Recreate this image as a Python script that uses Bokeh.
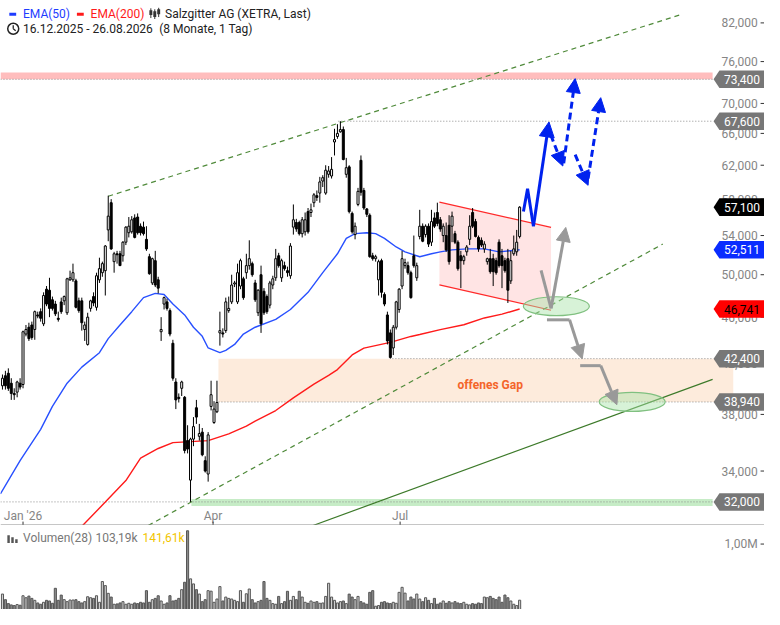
import math
from bokeh.plotting import figure
from bokeh.models import Range1d, ColumnDataSource, Arrow, NormalHead, LinearScale
from bokeh.layouts import column
from bokeh.embed import file_html
from bokeh.resources import INLINE
from bokeh.core.properties import value

FONT = value("Roboto")

# ---------------- data (EUR, daily bars, index 0 = 16.12.2025) ----------------
opens = [40.2, 41.0, 41.2, 40.4, 39.6, 39.7, 40.4, 40.3, 44.5, 45.1,
         45.3, 44.9, 46.2, 46.5, 45.4, 48.6, 48.5, 47.6, 47.2, 45.9,
         47.4, 47.5, 46.4, 49.5, 49.5, 49.4, 47.5, 47.5, 44.9, 43.6,
         46.8, 47.9, 46.9, 49.5, 50.2, 50.4, 54.6, 57.6, 51.3, 52.1,
         52.1, 51.9, 53.3, 54.3, 54.4, 55.9, 56.0, 55.0, 54.9, 53.6,
         51.8, 49.2, 51.4, 49.5, 44.7, 47.2, 47.4, 46.6, 43.7, 40.5,
         39.3, 40.0, 39.3, 36.1, 33.4, 36.2, 38.5, 36.4, 36.7, 34.7,
         33.8, 38.6, 37.4, 38.2, 44.6, 44.6, 44.8, 46.6, 47.4, 49.1,
         47.4, 48.9, 49.6, 50.2, 50.9, 51.1, 49.2, 46.4, 50.0, 48.4,
         47.9, 47.1, 49.0, 49.7, 51.9, 49.7, 50.9, 50.4, 49.9, 54.9,
         55.4, 55.4, 54.2, 54.4, 56.6, 56.5, 57.6, 58.4, 58.7, 60.1,
         58.7, 60.9, 60.7, 64.9, 65.6, 66.2, 66.5, 60.9, 61.8, 56.4,
         54.1, 57.4, 62.6, 59.0, 56.9, 56.2, 51.9, 51.6, 49.5, 51.4,
         48.1, 46.2, 44.6, 43.3, 45.1, 46.7, 48.9, 50.9, 50.9, 50.2,
         51.9, 49.7, 53.9, 55.0, 54.1, 55.0, 53.3, 55.9, 56.5, 55.7,
         54.0, 54.0, 55.1, 55.0, 54.2, 53.3, 51.9, 51.4, 52.3, 53.6,
         56.5, 55.5, 53.8, 53.5, 52.6, 51.3, 51.6, 51.6, 51.4, 53.3,
         51.9, 51.4, 51.6, 49.4, 52.1, 52.3, 53.9]
highs = [41.1, 41.4, 41.6, 40.8, 40.0, 40.6, 40.8, 44.8, 45.3, 45.5,
         45.6, 46.6, 46.5, 46.8, 48.3, 48.9, 49.7, 47.9, 47.5, 46.5,
         47.8, 48.0, 49.7, 50.4, 51.1, 49.6, 47.8, 47.8, 45.6, 46.4,
         47.6, 48.3, 50.2, 51.7, 51.3, 53.0, 58.4, 58.0, 52.3, 52.4,
         52.4, 53.4, 55.0, 56.0, 56.1, 56.3, 56.4, 55.3, 55.5, 55.0,
         52.1, 51.7, 52.4, 49.8, 46.0, 47.9, 47.7, 46.8, 44.0, 40.8,
         39.6, 40.6, 39.4, 37.2, 36.3, 37.8, 39.1, 37.3, 37.0, 35.0,
         36.7, 40.6, 39.0, 40.6, 46.5, 45.0, 47.8, 47.9, 50.0, 49.4,
         51.1, 51.6, 49.8, 52.1, 53.5, 51.3, 49.5, 48.6, 50.9, 48.7,
         48.1, 49.4, 49.9, 52.6, 52.2, 51.6, 51.3, 50.8, 53.2, 57.4,
         55.8, 55.6, 56.0, 56.5, 57.0, 57.5, 58.7, 59.0, 60.6, 60.8,
         62.0, 61.9, 63.0, 66.6, 67.2, 67.6, 66.9, 62.9, 62.0, 56.6,
         55.4, 59.3, 63.2, 59.3, 57.0, 56.4, 52.2, 52.0, 51.5, 51.6,
         48.3, 46.5, 44.9, 45.3, 47.5, 48.7, 52.4, 51.6, 51.3, 50.4,
         54.0, 51.2, 56.8, 55.3, 55.2, 55.3, 56.8, 56.5, 57.6, 56.0,
         55.3, 55.4, 56.2, 56.6, 54.5, 53.5, 52.4, 52.0, 53.0, 56.2,
         57.0, 55.8, 54.0, 53.8, 53.4, 51.7, 52.6, 52.1, 51.7, 53.6,
         52.6, 51.7, 52.6, 52.4, 54.0, 54.6, 57.2]
lows = [39.9, 39.9, 39.8, 39.1, 39.1, 39.3, 39.9, 40.0, 44.3, 43.9,
        44.0, 44.0, 45.9, 45.6, 45.2, 47.0, 46.0, 46.6, 46.1, 45.6,
        46.3, 47.1, 46.2, 49.4, 49.3, 46.8, 46.4, 44.8, 43.9, 43.5,
        46.5, 47.0, 46.6, 49.2, 49.8, 48.0, 53.4, 52.5, 50.2, 51.1,
        50.9, 51.3, 53.0, 53.8, 54.2, 53.7, 54.1, 54.0, 54.0, 52.4,
        50.0, 49.0, 48.8, 48.2, 43.9, 46.7, 46.6, 44.3, 40.6, 38.4,
        38.9, 39.4, 35.2, 35.2, 32.0, 35.7, 37.3, 36.1, 35.0, 33.9,
        33.3, 38.3, 37.3, 38.1, 43.5, 44.2, 44.6, 46.4, 47.2, 48.8,
        47.2, 48.6, 47.6, 49.6, 50.5, 49.8, 47.4, 46.1, 44.6, 46.2,
        46.3, 46.8, 48.6, 49.4, 50.7, 49.3, 50.4, 49.8, 49.6, 54.1,
        54.4, 54.0, 53.8, 54.0, 54.2, 56.0, 57.1, 57.8, 57.6, 59.4,
        58.5, 60.5, 60.4, 63.2, 65.3, 66.1, 62.6, 60.5, 56.4, 54.2,
        53.6, 57.2, 58.4, 56.8, 56.0, 51.7, 51.4, 51.3, 48.0, 47.8,
        47.0, 43.6, 42.4, 42.7, 44.9, 46.4, 48.6, 50.6, 50.0, 47.7,
        50.7, 49.4, 53.6, 53.3, 53.8, 52.8, 52.9, 54.8, 55.0, 54.4,
        53.3, 52.3, 51.0, 53.3, 53.1, 50.4, 48.7, 51.0, 51.9, 53.0,
        54.8, 53.8, 52.3, 52.8, 52.2, 51.0, 50.1, 48.9, 50.0, 50.7,
        48.7, 50.2, 47.3, 49.1, 51.9, 51.9, 53.7]
closes = [40.8, 40.2, 40.0, 39.6, 39.5, 40.5, 40.1, 44.7, 44.9, 44.1,
          44.2, 46.5, 46.1, 45.9, 48.0, 47.2, 46.8, 46.8, 46.3, 45.8,
          46.5, 47.9, 49.6, 49.7, 50.2, 46.9, 46.6, 45.5, 45.3, 46.0,
          47.5, 47.3, 49.9, 50.6, 51.1, 52.9, 56.1, 52.6, 52.1, 52.0,
          50.9, 53.3, 54.9, 55.0, 55.7, 53.8, 54.3, 54.3, 54.2, 52.6,
          50.1, 51.6, 49.0, 48.7, 44.9, 47.8, 46.8, 44.5, 40.8, 39.1,
          39.2, 40.5, 35.4, 35.5, 36.2, 37.1, 37.8, 36.6, 35.1, 34.0,
          36.5, 39.5, 38.4, 38.9, 44.8, 44.5, 47.4, 46.8, 49.0, 49.2,
          50.2, 51.4, 47.8, 50.9, 51.6, 50.0, 47.6, 48.5, 45.4, 46.4,
          46.5, 49.2, 49.6, 51.6, 50.9, 51.4, 50.6, 50.2, 52.9, 55.7,
          54.7, 54.2, 55.7, 55.7, 54.4, 56.8, 58.5, 58.2, 60.0, 60.5,
          61.4, 61.3, 61.5, 65.2, 66.0, 66.5, 62.7, 61.7, 56.6, 54.4,
          55.0, 58.9, 58.8, 57.0, 56.3, 51.8, 51.6, 51.8, 51.3, 48.3,
          47.2, 43.9, 42.5, 45.1, 47.4, 48.6, 51.6, 51.2, 50.2, 47.8,
          50.9, 50.9, 55.0, 53.4, 55.0, 53.1, 55.5, 55.0, 55.3, 54.7,
          55.0, 52.5, 51.3, 56.1, 53.3, 50.6, 51.4, 51.8, 52.8, 55.0,
          55.0, 53.9, 52.6, 53.0, 53.1, 51.6, 50.3, 50.3, 50.2, 50.9,
          50.9, 50.4, 48.5, 51.4, 52.6, 53.3, 57.1]
volumes_k = [236, 150, 90, 70, 60, 75, 65, 210, 180, 205,
             170, 140, 100, 80, 110, 140, 130, 95, 324, 140,
             220, 150, 120, 145, 145, 150, 120, 100, 120, 195,
             180, 170, 210, 110, 427, 365, 247, 190, 80, 85,
             100, 120, 80, 95, 80, 100, 90, 110, 100, 288,
             110, 150, 170, 210, 130, 80, 100, 211, 130, 140,
             170, 303, 416, 1203, 468, 391, 303, 236, 120, 150,
             288, 280, 110, 160, 350, 130, 190, 170, 160, 140,
             120, 288, 110, 240, 313, 150, 100, 120, 140, 427,
             170, 140, 90, 80, 200, 90, 120, 278, 140, 200,
             150, 278, 190, 110, 95, 130, 110, 120, 95, 100,
             200, 401, 190, 140, 100, 120, 130, 90, 235, 190,
             150, 200, 120, 100, 80, 262, 288, 50, 60, 110,
             120, 100, 90, 110, 95, 262, 339, 250, 130, 190,
             160, 236, 160, 120, 180, 140, 90, 170, 80, 100,
             130, 95, 120, 100, 120, 100, 90, 110, 80, 70,
             90, 80, 100, 90, 190, 180, 200, 170, 150, 190,
             110, 221, 180, 130, 80, 60, 142]

ema50_idx = [-0.7, 6, 13, 17, 22, 27, 33, 36, 40, 44, 48, 52, 55, 58, 62, 65, 68, 70, 74, 76,
             79, 82, 86, 93, 98, 104, 109, 114, 117, 120, 124, 127, 130, 134, 137, 142, 146,
             149, 153, 158, 164, 169, 176]
ema50_val = [32.5, 34.7, 36.9, 38.6, 40.4, 41.7, 42.9, 44.1, 45.3, 46.5, 47.8, 48.2, 48.1, 47.2,
             46.2, 45.1, 44.3, 43.3, 42.9, 43.1, 43.6, 44.5, 45.1, 45.8, 46.7, 48.3, 50.2, 52.1,
             53.7, 54.2, 54.3, 54.2, 53.7, 52.8, 52.3, 51.8, 52.1, 52.3, 52.5, 52.6, 52.6, 52.3,
             52.511]
ema200_idx = [24, 27, 35, 42, 47, 53, 58, 64, 70, 77, 83, 86, 93, 99, 106, 111, 114, 119, 123,
              132, 139, 142, 149, 157, 164, 170, 176]
ema200_val = [29.63, 30.50, 31.99, 33.37, 34.87, 35.54, 35.95, 36.02, 36.09, 36.58, 37.14,
              37.50, 38.29, 39.26, 40.33, 41.03, 41.50, 42.71, 43.28, 43.78, 44.29, 44.46,
              44.89, 45.32, 45.93, 46.27, 46.741]

price_ticks = [82, 76, 70, 66, 62, 58, 54, 50, 46, 42, 38, 34]
price_tick_labels = ["82,000", "76,000", "70,000", "66,000", "62,000", "58,000",
                     "54,000", "50,000", "46,000", "42,000", "38,000", "34,000"]
date_tick_idx = [7, 71.67, 135.33]
date_tick_labels = ["Jan '26", "Apr", "Jul"]

tag_prices = [73.4, 67.6, 57.1, 52.511, 46.741, 42.4, 38.94, 32.0]
tag_labels = ["73,400", "67,600", "57,100", "52,511", "46,741", "42,400", "38,940", "32,000"]
tag_fill = ["#777777", "#777777", "#000000", "#0a2cff", "#ff0000", "#777777", "#777777", "#777777"]
tag_text = ["#ffffff", "#ffffff", "#ffffff", "#ffffff", "#000000", "#ffffff", "#ffffff", "#ffffff"]

# levels / zones
resist_zone = [73.4, 74.4]
gap_zone = [38.94, 42.4]
support_zone = [31.75, 32.18]
level_prices = [73.4, 67.6, 42.4, 38.94, 32.0]
level_start_idx = [-0.67, 114.3, 132.7, 73.5, -0.67]

# trend lines (bar index, price)
upper_chan_x, upper_chan_y = [36, 230.3], [58.33, 83.26]
lower_chan_x, lower_chan_y = [49.6, 224.7], [30.55, 53.1]
trend_x, trend_y = [105.7, 241.67], [30.55, 40.71]
flag_x = [148.7, 186.7]
flag_top = [57.67, 54.87]
flag_bot = [49.01, 46.63]

# scenario arrows
blue_path_x, blue_path_y = [177.3, 178.7, 180.7, 186.0], [56.6, 59.2, 55.0, 67.5]
blue_dash = [((186.6, 65.8), (190.7, 61.9)), ((191.0, 62.25), (194.9, 73.5)),
             ((194.9, 63.3), (199.3, 59.6)), ((199.3, 60.4), (203.6, 70.8))]
gray_paths = [([183.3, 186.7, 191.7], [50.44, 46.8, 54.87]),
              ([185.3, 193.0, 197.3], [45.76, 45.76, 42.38]),
              ([196.6, 203.6, 209.1], [41.82, 41.82, 38.73])]
ellipse_x, ellipse_y = [188.5, 214.3], [47.0, 38.95]
gap_label_x, gap_label_y = [166], [40.3]

# ---------------- layout constants ----------------
W, HM, HV = 764, 525, 84
AXIS_IDX = 241.67        # right edge of price area (bar index units)
GAP_START, GAP_END = 73.5, 248.7
SUPPORT_START = 64.3
BLUE = "#1e3cff"
RED = "#ff1a1a"
GRAY_TXT = "#858585"

n = len(closes)
idx = list(range(n))
xr = Range1d(-2 / 3, 778 / 3)

p = figure(width=W, height=HM, x_range=xr, y_range=Range1d(30.55, 85.69), y_axis_type="log",
           x_axis_location=None, y_axis_location=None, output_backend="svg",
           toolbar_location=None, min_border=0, outline_line_color=None)
p.grid.visible = False
p.extra_x_ranges = {"px": Range1d(0, 780)}
p.extra_x_scales = {"px": LinearScale()}
p.extra_y_ranges = {"py": Range1d(539, 0)}
p.extra_y_scales = {"py": LinearScale()}

# zones
p.quad(left=[xr.start], right=[AXIS_IDX], bottom=[resist_zone[0]], top=[resist_zone[1]],
       fill_color="#ffbdbd", line_color=None)
p.quad(left=[GAP_START], right=[GAP_END], bottom=[gap_zone[0]], top=[gap_zone[1]],
       fill_color="#fdebdc", line_color=None)
p.quad(left=[SUPPORT_START], right=[AXIS_IDX], bottom=[support_zone[0]], top=[support_zone[1]],
       fill_color="#c6ecc6", line_color=None)
p.patch(x=[flag_x[0], flag_x[1], flag_x[1], flag_x[0]],
        y=[flag_top[0], flag_top[1], flag_bot[1], flag_bot[0]],
        fill_color="#ffe4e4", line_color=None)
p.line(flag_x, flag_top, line_color="#ff2a2a", line_width=1.2)
p.line(flag_x, flag_bot, line_color="#ff2a2a", line_width=1.2)

p.segment(x0=level_start_idx, x1=[AXIS_IDX] * len(level_prices), y0=level_prices, y1=level_prices,
          line_color="#8c8c8c", line_dash="1 2", line_width=1)

p.line(upper_chan_x, upper_chan_y, line_color="#4f8a3a", line_dash="5 4", line_width=1.2)
p.line(lower_chan_x, lower_chan_y, line_color="#4f8a3a", line_dash="5 4", line_width=1.2)
p.line(trend_x, trend_y, line_color="#3d7a2a", line_width=1.2)

p.line(ema200_idx, ema200_val, line_color=RED, line_width=1.4)
p.line(ema50_idx, ema50_val, line_color="#2850ff", line_width=1.4)

body_top = [max(o, c) for o, c in zip(opens, closes)]
body_bot = [min(o, c) for o, c in zip(opens, closes)]
body_fill = ["#ffffff" if c >= o else "#000000" for o, c in zip(opens, closes)]
src = ColumnDataSource(dict(x=idx, h=highs, l=lows, top=body_top, bot=body_bot, fill=body_fill))
p.segment(x0="x", x1="x", y0="l", y1="h", source=src, line_color="#000000", line_width=1)
p.vbar(x="x", top="top", bottom="bot", width=0.68, fill_color="fill", line_color="#000000",
       line_width=1, source=src)

# ellipses
p.ellipse(x=ellipse_x, y=ellipse_y, width=66, height=19, width_units="screen", height_units="screen",
          fill_color="#a6e3a6", fill_alpha=0.45, line_color="#80c080", line_width=1.2)

# arrows
GRAY = "#999999"
for xs, ys in gray_paths:
    p.line(xs[:-1], ys[:-1], line_color=GRAY, line_width=3)
    p.add_layout(Arrow(end=NormalHead(size=14, fill_color=GRAY, line_color=GRAY),
                       x_start=xs[-2], y_start=ys[-2], x_end=xs[-1], y_end=ys[-1],
                       line_color=GRAY, line_width=3))
p.line(blue_path_x[:-1], blue_path_y[:-1], line_color="#0022ee", line_width=3)
p.add_layout(Arrow(end=NormalHead(size=15, fill_color="#0022ee", line_color="#0022ee"),
                   x_start=blue_path_x[-2], y_start=blue_path_y[-2],
                   x_end=blue_path_x[-1], y_end=blue_path_y[-1],
                   line_color="#0022ee", line_width=3))
for (x0, y0), (x1, y1) in blue_dash:
    p.add_layout(Arrow(end=NormalHead(size=14, fill_color="#0022ee", line_color="#0022ee"),
                       x_start=x0, y_start=y0, x_end=x1, y_end=y1,
                       line_color="#0022ee", line_width=3, line_dash="7 4"))

p.text(x=gap_label_x, y=gap_label_y, text=["offenes Gap"], text_align="center",
       text_baseline="middle", text_font=FONT, text_font_size="12px", text_font_style="bold",
       text_color="#f4652a")

# right price scale
p.text(x=[773] * len(price_ticks), y=price_ticks, text=price_tick_labels, x_range_name="px",
       text_align="right", text_baseline="middle", text_font=FONT, text_font_size="12px",
       text_color=GRAY_TXT)
p.segment(x0=[776] * len(price_ticks), x1=[780] * len(price_ticks), y0=price_ticks, y1=price_ticks,
          x_range_name="px", line_color="#333333", line_width=1)
f = math.exp(9 / 522.7)
tag_xs = [[728, 734, 780, 780, 734] for _ in tag_prices]
tag_ys = [[v, v * f, v * f, v / f, v / f] for v in tag_prices]
p.patches(tag_xs, tag_ys, x_range_name="px", fill_color=tag_fill, line_color=None)
p.text(x=[757] * len(tag_prices), y=tag_prices, text=tag_labels, x_range_name="px",
       text_align="center", text_baseline="middle", text_font=FONT, text_font_size="12px",
       text_color=tag_text)

# date axis
p.text(x=date_tick_idx, y=[529] * 3, text=date_tick_labels, y_range_name="py",
       text_align="center", text_baseline="middle", text_font=FONT, text_font_size="12px",
       text_color=GRAY_TXT)
p.segment(x0=date_tick_idx, x1=date_tick_idx, y0=[535] * 3, y1=[539] * 3, y_range_name="py",
          line_color="#333333", line_width=1)
p.segment(x0=[0], x1=[780], y0=[538.5], y1=[538.5], x_range_name="px", y_range_name="py",
          line_color="#8c8c8c", line_width=1)

# header
hdr = dict(x_range_name="px", y_range_name="py")
p.segment(x0=[9, 78], x1=[16, 85], y0=[14, 14], y1=[14, 14], line_color=[BLUE, RED], line_width=3, **hdr)
p.text(x=[23], y=[14], text=["EMA(50)"], text_color=BLUE, text_baseline="middle",
       text_font=FONT, text_font_size="12px", **hdr)
p.text(x=[92], y=[14], text=["EMA(200)"], text_color=RED, text_baseline="middle",
       text_font=FONT, text_font_size="12px", **hdr)
p.segment(x0=[153.5, 157.5, 161.5], x1=[153.5, 157.5, 161.5], y0=[8, 9, 7.5], y1=[18, 19, 17],
          line_color="#333333", line_width=1, **hdr)
p.quad(left=[152, 156, 160], right=[155, 159, 163], top=[10, 11, 9], bottom=[15, 17, 14],
       fill_color="#333333", line_color=None, **hdr)
p.text(x=[168], y=[14], text=["Salzgitter AG (XETRA, Last)"], text_color="#222222",
       text_baseline="middle", text_font=FONT, text_font_size="12px", **hdr)
p.scatter(x=[13], y=[29], marker="circle", size=11, fill_color=None, line_color="#222222",
          line_width=1.5, **hdr)
p.segment(x0=[13, 13], x1=[13, 15.5], y0=[29, 29], y1=[25.5, 31], line_color="#222222",
          line_width=1.3, **hdr)
p.text(x=[23, 162], y=[29, 29], text=["16.12.2025 - 26.08.2026", "(8 Monate, 1 Tag)"],
       text_color="#222222", text_baseline="middle", text_font=FONT, text_font_size="12px", **hdr)

# ---------------- volume panel ----------------
pv = figure(width=W, height=HV, x_range=xr, y_range=Range1d(0, 1283.6),
            x_axis_location=None, y_axis_location=None, output_backend="svg",
            toolbar_location=None, min_border=0, outline_line_color=None)
pv.grid.visible = False
pv.extra_x_ranges = {"px": Range1d(0, 780)}
pv.extra_x_scales = {"px": LinearScale()}
pv.extra_y_ranges = {"py": Range1d(625, 539)}
pv.extra_y_scales = {"py": LinearScale()}
vol_fill = ["#d0d0d0" if c >= o else "#8c8c8c" for o, c in zip(opens, closes)]
pv.vbar(x=idx, top=volumes_k, width=0.72, fill_color=vol_fill, line_color="#555555", line_width=1)
pv.quad(left=[7, 11, 15], right=[9.5, 13.5, 17.5], top=[549, 551, 553], bottom=[557, 557, 557],
        fill_color="#555555", line_color=None, x_range_name="px", y_range_name="py")
pv.text(x=[23, 97], y=[552, 552], text=["Volumen(28)", "103,19k"], text_color="#777777",
        text_baseline="middle", text_font=FONT, text_font_size="12px",
        x_range_name="px", y_range_name="py")
pv.text(x=[145], y=[552], text=["141,61k"], text_color="#f2c500",
        text_baseline="middle", text_font=FONT, text_font_size="12px",
        x_range_name="px", y_range_name="py")
pv.text(x=[773], y=[1000], text=["1,00M"], x_range_name="px", text_align="right",
        text_baseline="middle", text_font=FONT, text_font_size="12px", text_color=GRAY_TXT)
pv.segment(x0=[776], x1=[780], y0=[1000], y1=[1000], x_range_name="px",
           line_color="#333333", line_width=1)

layout = column(p, pv, spacing=0)
open("out.html", "w").write(file_html(layout, INLINE))
